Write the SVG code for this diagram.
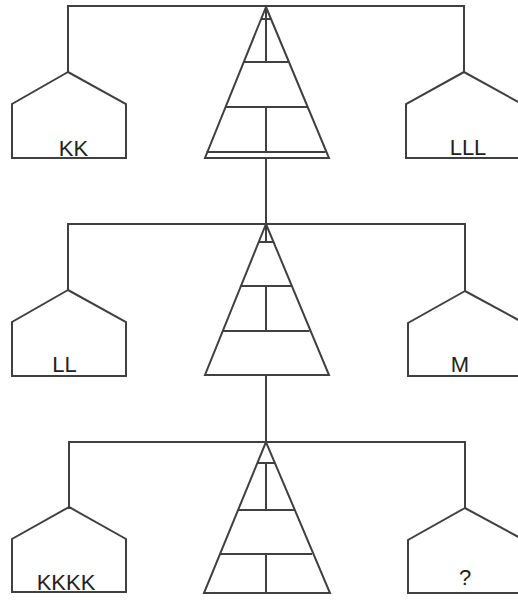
<svg xmlns="http://www.w3.org/2000/svg" width="518" height="600" viewBox="0 0 518 600">
<style>
.s{fill:none;stroke:#404040;stroke-width:2;stroke-linejoin:miter}
.t{font-family:"Liberation Sans",Arial,sans-serif;font-size:22px;fill:#222;text-anchor:middle}
</style>
<rect width="518" height="600" fill="#fff"/>
<g id="connectors" class="s">
<path d="M68 72V6H464V72"/>
<path d="M266 158V224"/>
<path d="M68 290V224H465V291"/>
<path d="M266 375V442"/>
<path d="M69 507V442H465V508"/>
</g>
<g id="house-kk">
<path class="s" d="M68 72L12 104V158H126V104Z"/>
<text class="t" x="73.5" y="156">KK</text>
</g>
<g id="house-lll">
<path class="s" d="M464 72L406 104V158H522V104Z"/>
<text class="t" x="468" y="155">LLL</text>
</g>
<g id="triangle-1" class="s">
<path d="M266 7L205 158H329Z"/>
<path d="M261 19H271M243.5 62H288.5M225 107H307M206.5 152H325.5"/>
<path d="M266 7V62M266 107V152"/>
</g>
<g id="house-ll">
<path class="s" d="M68 290L12 322V376H126V322Z"/>
<text class="t" x="64.5" y="372">LL</text>
</g>
<g id="house-m">
<path class="s" d="M465 291L408 323V376H524V323Z"/>
<text class="t" x="460" y="372">M</text>
</g>
<g id="triangle-2" class="s">
<path d="M266 224L205 375H329Z"/>
<path d="M258.6 242H273.4M240.8 286H291.2M222.4 331H309.6"/>
<path d="M266 224V242M266 286V331"/>
</g>
<g id="house-kkkk">
<path class="s" d="M69 507L12 539V592H126V539Z"/>
<text class="t" x="66" y="590">KKKK</text>
</g>
<g id="house-q">
<path class="s" d="M465 508L408 540V593H524V540Z"/>
<text class="t" x="465" y="585">?</text>
</g>
<g id="triangle-3" class="s">
<path d="M266 442L204 593H330Z"/>
<path d="M257.4 463H274.6M238.1 510H293.9M220 554H312"/>
<path d="M266 463V510M266 554V593"/>
</g>
</svg>
